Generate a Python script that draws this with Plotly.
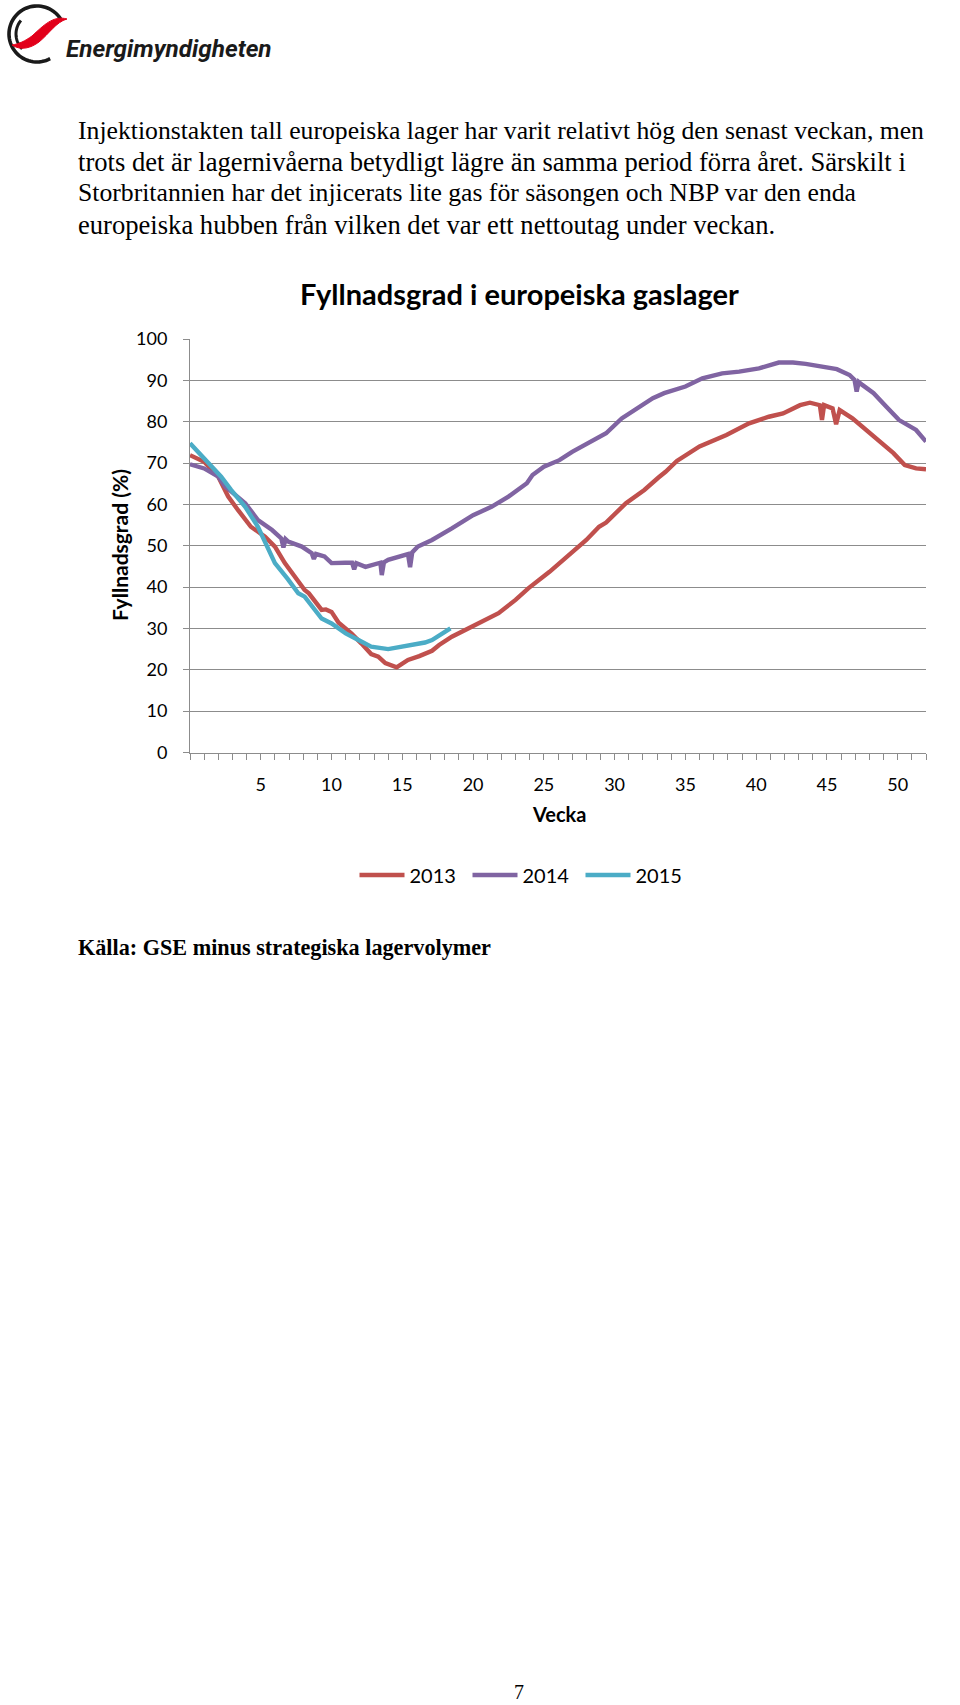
import numpy as np
import plotly.graph_objects as go

W, H = 960, 1705

# ---------------- data ----------------
weeks_2013 = [0, 1.0, 2.0, 2.7, 3.4, 4.3, 5.3, 6.0, 6.7, 7.4, 8.1, 8.4, 9.3, 9.6, 10.0, 10.5,
              11.4, 12.1, 12.8, 13.3, 13.8, 14.6, 15.4, 16.2, 17.1, 17.6, 18.5, 19.9, 20.9,
              21.8, 23.0, 23.9, 25.4, 26.3, 27.1, 28.0, 28.9, 29.4, 30.8, 32.1, 33.1, 33.6,
              34.4, 36.0, 37.9, 39.5, 40.9, 41.9, 43.1, 43.8, 44.5, 44.65, 44.8, 45.4, 45.65,
              45.9, 46.8, 47.8, 48.7, 49.7, 50.5, 51.3, 52.0]
fill_2013 = [71.9, 70.3, 66.7, 61.9, 58.6, 54.6, 52.2, 49.8, 45.8, 42.5, 39.3, 38.5, 34.5, 34.6,
             34.0, 31.4, 28.8, 26.4, 23.8, 23.2, 21.6, 20.6, 22.4, 23.3, 24.6, 26.0, 28.0, 30.4,
             32.0, 33.7, 36.9, 39.7, 43.7, 46.4, 49.0, 51.4, 54.6, 55.6, 60.3, 63.5, 66.5, 67.9,
             70.5, 74.0, 76.8, 79.6, 81.2, 82.0, 84.0, 84.6, 84.0, 80.4, 84.0, 83.2, 79.4,
             82.8, 80.8, 78.0, 75.2, 72.4, 69.5, 68.7, 68.5]

weeks_2014 = [0, 1.0, 2.0, 2.5, 3.2, 3.9, 4.8, 5.8, 6.45, 6.6, 6.75, 6.94, 7.9, 8.6, 8.75, 8.9,
              9.5, 10.0, 10.96, 11.45, 11.6, 11.75, 12.4, 13.3, 13.45, 13.55, 13.7, 14.0, 14.7,
              15.4, 15.55, 15.7, 16.1, 17.1, 18.5, 20.0, 21.3, 22.5, 23.8, 24.2, 25.0, 26.1,
              27.0, 28.2, 29.4, 30.5, 31.7, 32.7, 33.5, 34.6, 35.0, 36.2, 37.6, 38.8, 40.2,
              41.6, 42.6, 43.5, 44.7, 45.7, 46.6, 46.95, 47.1, 47.25, 47.5, 48.3, 49.2, 50.1,
              51.3, 52.0]
fill_2014 = [69.7, 68.7, 66.7, 64.3, 62.3, 60.3, 56.2, 53.8, 51.8, 49.6, 51.6, 51.0, 49.8, 48.2,
             46.8, 48.0, 47.4, 45.8, 45.9, 45.9, 44.3, 45.8, 44.9, 45.8, 45.9, 42.9, 46.0, 46.6,
             47.4, 48.0, 44.8, 48.4, 49.8, 51.4, 54.2, 57.4, 59.4, 61.9, 65.1, 67.1, 69.1, 70.7,
             72.7, 74.8, 77.2, 80.8, 83.6, 85.7, 86.9, 88.1, 88.5, 90.5, 91.7, 92.1, 92.9,
             94.3, 94.3, 94.0, 93.3, 92.7, 91.3, 90.1, 87.3, 89.6, 88.9, 86.9, 83.6, 80.4,
             78.0, 75.2]

weeks_2015 = [0, 1.5, 2.2, 2.9, 3.9, 4.8, 5.5, 6.0, 6.9, 7.65, 8.1, 8.6, 9.1, 9.3, 10.0, 10.7,
              11.0, 11.9, 12.8, 14.0, 14.7, 15.7, 16.6, 17.1, 17.6, 18.4]
fill_2015 = [74.8, 69.1, 66.7, 63.5, 59.4, 54.6, 49.8, 45.8, 42.0, 38.5, 37.7, 35.5, 33.3, 32.4,
             31.2, 29.6, 28.8, 27.2, 25.6, 25.0, 25.4, 26.0, 26.6, 27.2, 28.4, 30.0]

series_names = ["2013", "2014", "2015"]
x_tick_values = [5, 10, 15, 20, 25, 30, 35, 40, 45, 50]
x_tick_labels = ["5", "10", "15", "20", "25", "30", "35", "40", "45", "50"]
y_tick_values = [0, 10, 20, 30, 40, 50, 60, 70, 80, 90, 100]

paragraph = [
    "Injektionstakten tall europeiska lager har varit relativt hög den senast veckan, men",
    "trots det är lagernivåerna betydligt lägre än samma period förra året. Särskilt i",
    "Storbritannien har det injicerats lite gas för säsongen och NBP var den enda",
    "europeiska hubben från vilken det var ett nettoutag under veckan.",
]
paragraph_sizes = [25.7, 26.6, 25.7, 26.6]
chart_title = "Fyllnadsgrad i europeiska gaslager"
y_title = "Fyllnadsgrad (%)"
x_title = "Vecka"
source_text = "Källa: GSE minus strategiska lagervolymer"
page_number = "7"
logo_text = "Energimyndigheten"

colors = ["#C0504D", "#8064A2", "#4BACC6"]
grid_col = "#8C8C8C"


def px(x):
    return x / W


def py(y):
    return 1 - y / H


fig = go.Figure()
for wk, val, nm, col in zip([weeks_2013, weeks_2014, weeks_2015],
                            [fill_2013, fill_2014, fill_2015], series_names, colors):
    fig.add_trace(go.Scatter(x=wk, y=val, mode="lines", name=nm,
                             line=dict(color=col, width=4.4)))

# plot area (pixels)
x0p, x1p = 190, 926
ytop, ybot = 339, 752.5

fig.update_layout(
    width=W, height=H, autosize=False,
    margin=dict(l=0, r=0, t=0, b=0, pad=0, autoexpand=False),
    paper_bgcolor="white", plot_bgcolor="white",
    font=dict(family="Lato", color="#000000"),
    showlegend=True,
    legend=dict(orientation="h", x=px(524), xanchor="center", y=py(875), yanchor="middle",
                font=dict(family="Lato", size=20, color="#000"), itemwidth=45,
                entrywidth=53, bgcolor="rgba(0,0,0,0)"),
    xaxis=dict(domain=[px(x0p), px(x1p)], range=[0, 52], showgrid=False, zeroline=False,
               automargin=False,
               showline=True, linecolor=grid_col, linewidth=1,
               tickmode="array", tickvals=x_tick_values, ticktext=x_tick_labels,
               ticks="outside", ticklen=6, tickcolor=grid_col, tickwidth=1,
               ticklabelstandoff=10,
               tickfont=dict(family="Lato", size=18, color="#000"),
               minor=dict(tickmode="linear", tick0=0, dtick=1, ticks="outside", ticklen=6,
                          tickcolor=grid_col, tickwidth=1, showgrid=False)),
    yaxis=dict(domain=[py(ybot), py(ytop)], range=[0, 100], tickmode="array",
               automargin=False,
               tickvals=y_tick_values, showgrid=True, gridcolor=grid_col, gridwidth=1.2,
               zeroline=False, showline=True, linecolor=grid_col, linewidth=1,
               ticks="outside", ticklen=6, tickcolor=grid_col, ticklabelstandoff=12,
               tickfont=dict(family="Lato", size=18, color="#000")),
)

ann = []
for i, (line, fs) in enumerate(zip(paragraph, paragraph_sizes)):
    ann.append(dict(text=line, x=px(76), y=py(130 + i * 31.5), xref="paper", yref="paper",
                    xanchor="left", yanchor="middle", showarrow=False,
                    font=dict(family="Liberation Serif", size=fs, color="#000")))
ann.append(dict(text=chart_title, x=px(519), y=py(293), xref="paper", yref="paper",
                xanchor="center", yanchor="middle", showarrow=False,
                font=dict(family="Lato", size=29, color="#000", weight="bold")))
ann.append(dict(text=y_title, x=px(120), y=py(545), xref="paper", yref="paper",
                xanchor="center", yanchor="middle", showarrow=False, textangle=-90,
                font=dict(family="Lato", size=21, color="#000", weight="bold")))
ann.append(dict(text=x_title, x=px(559), y=py(814), xref="paper", yref="paper",
                xanchor="center", yanchor="middle", showarrow=False,
                font=dict(family="Lato", size=20, color="#000", weight="bold")))
ann.append(dict(text=source_text, x=px(76), y=py(947), xref="paper", yref="paper",
                xanchor="left", yanchor="middle", showarrow=False,
                font=dict(family="Liberation Serif", size=22.2, color="#000", weight="bold")))
ann.append(dict(text=page_number, x=px(519), y=py(1692), xref="paper", yref="paper",
                xanchor="center", yanchor="middle", showarrow=False,
                font=dict(family="Liberation Serif", size=20, color="#000")))
ann.append(dict(text=logo_text, x=px(64), y=py(48.5), xref="paper", yref="paper",
                xanchor="left", yanchor="middle", showarrow=False,
                font=dict(family="Roboto", size=24.3, color="#1a1a1a", style="italic",
                          weight="bold")))
fig.update_layout(annotations=ann)

# ---------------- logo decoration ----------------
def arc_path(cx, cy, r, t0, t1, n=60):
    t = np.radians(np.linspace(t0, t1, n))
    xs = cx + r * np.cos(t)
    ys = cy + r * np.sin(t)
    return "M" + " L".join(f"{px(a):.5f},{py(b):.5f}" for a, b in zip(xs, ys))


shapes = [
    dict(type="path", path=arc_path(37, 34, 28, 62, 328), xref="paper", yref="paper",
         line=dict(color="#1a1a1a", width=3.6)),
    dict(type="path", path=arc_path(37, 34, 21, 135, 220, 30), xref="paper", yref="paper",
         line=dict(color="#1a1a1a", width=3.0)),
]


def P(a, b):
    return f"{px(a):.5f},{py(b):.5f}"


swoosh = ("M" + P(67, 19) + " C" + P(53, 15) + " " + P(43, 26) + " " + P(32, 36) +
          " C" + P(25, 41) + " " + P(19, 44) + " " + P(12, 45) +
          " C" + P(21, 51) + " " + P(31, 48) + " " + P(39, 42) +
          " C" + P(49, 34) + " " + P(56, 22) + " " + P(67, 19) + " Z")
shapes.append(dict(type="path", path=swoosh, xref="paper", yref="paper",
                   fillcolor="#E2001A", line=dict(color="#E2001A", width=1)))
fig.update_layout(shapes=shapes)

fig.write_html("out.html", config={"displayModeBar": False},
               post_script="document.body.style.margin='0';")
